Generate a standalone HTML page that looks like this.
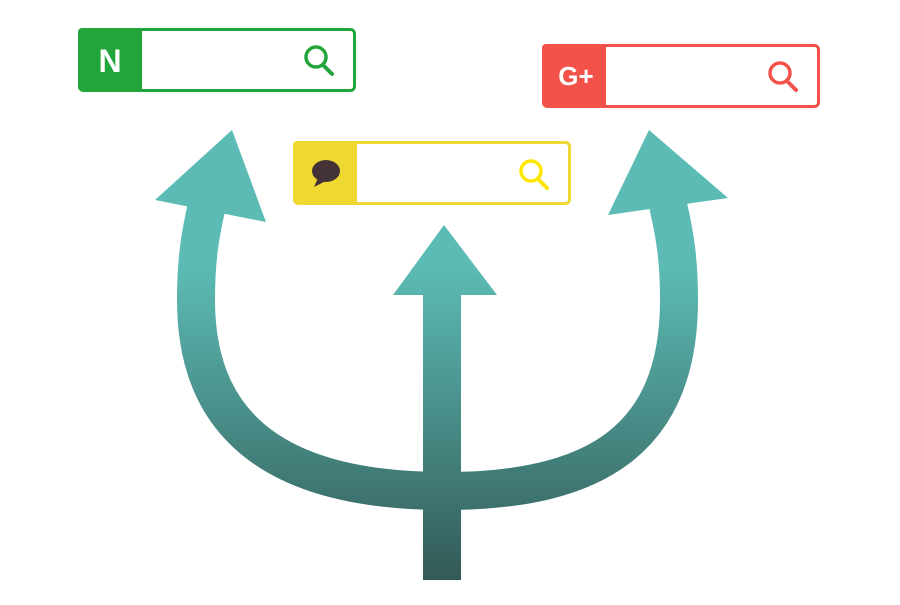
<!DOCTYPE html>
<html><head><style>body{margin:0;background:#fff;width:900px;height:600px;overflow:hidden}</style></head>
<body>
<svg width="900" height="600" viewBox="0 0 900 600" xmlns="http://www.w3.org/2000/svg">
<defs>
<linearGradient id="g" gradientUnits="userSpaceOnUse" x1="0" y1="130" x2="0" y2="580">
<stop offset="0.3" stop-color="#5cbcb5"/>
<stop offset="1" stop-color="#335a57"/>
</linearGradient>
</defs>
<g fill="none" stroke="url(#g)" stroke-width="38">
<path d="M 445 491 C 295 491 196 440 196 300 C 196 260 200 235 207 205"/>
<path d="M 445 491 C 595 491 679 440 679 300 C 679 260 675 235 668 205"/>
<path d="M 442 295 L 442 580"/>
</g>
<g fill="url(#g)">
<polygon points="232,130 155,200 266,222"/>
<polygon points="649,130 608,215 728,198"/>
<polygon points="444,225 393,295 497,295"/>
</g>
<!-- Naver -->
<rect x="79.5" y="29.5" width="275" height="61" rx="4" fill="#fff" stroke="#22a63b" stroke-width="3"/>
<path d="M82 28 h60 v63 h-60 a4 4 0 0 1 -4 -4 v-55 a4 4 0 0 1 4 -4z" fill="#22a63b"/>
<text x="110" y="72" font-family="Liberation Sans, sans-serif" font-weight="bold" font-size="32" fill="#fff" text-anchor="middle">N</text>
<circle cx="316" cy="57" r="10" fill="none" stroke="#22a63b" stroke-width="3.5"/>
<line x1="323" y1="65" x2="332" y2="74" stroke="#22a63b" stroke-width="4" stroke-linecap="round"/>
<!-- Kakao -->
<rect x="294.5" y="142.5" width="275" height="61" rx="4" fill="#fff" stroke="#f0d832" stroke-width="3"/>
<path d="M297 141 h60 v63 h-60 a4 4 0 0 1 -4 -4 v-55 a4 4 0 0 1 4 -4z" fill="#f0d832"/>
<ellipse cx="326" cy="171" rx="14" ry="11" fill="#433336"/>
<polygon points="318,178 314,187 326,181" fill="#433336"/>
<circle cx="531" cy="171" r="10" fill="none" stroke="#ffe600" stroke-width="3.5"/>
<line x1="538" y1="179" x2="547" y2="188" stroke="#ffe600" stroke-width="4" stroke-linecap="round"/>
<!-- Google -->
<rect x="543.5" y="45.5" width="275" height="61" rx="4" fill="#fff" stroke="#f2524a" stroke-width="3"/>
<path d="M546 44 h60 v63 h-60 a4 4 0 0 1 -4 -4 v-55 a4 4 0 0 1 4 -4z" fill="#f2524a"/>
<text x="576" y="85" font-family="Liberation Sans, sans-serif" font-weight="bold" font-size="26" fill="#fff" text-anchor="middle">G+</text>
<circle cx="780" cy="73" r="10" fill="none" stroke="#f2524a" stroke-width="3.5"/>
<line x1="787" y1="81" x2="796" y2="90" stroke="#f2524a" stroke-width="4" stroke-linecap="round"/>
</svg>
</body></html>
